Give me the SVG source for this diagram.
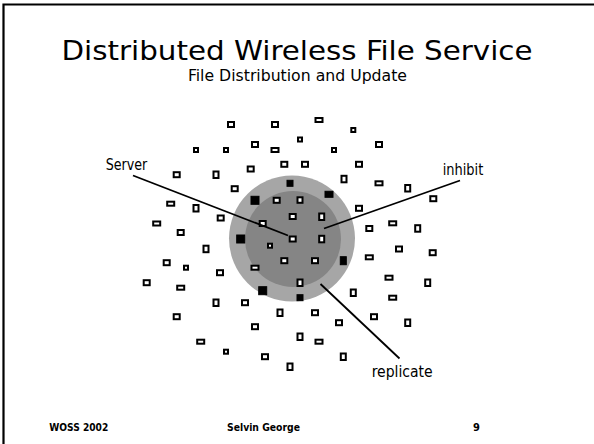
<svg xmlns="http://www.w3.org/2000/svg" width="594" height="444" viewBox="0 0 594 444">
<style>
text{font-family:"DejaVu Sans Condensed","DejaVu Sans",sans-serif;fill:#000}
.t{font-size:27px}
.st{font-size:16.5px}
.lb{font-size:15px}
.ft{font-size:11px;font-weight:bold}
.o{fill:#fff;stroke:#000;stroke-width:2}
.f{fill:#000;stroke:#000;stroke-width:1}
.c{stroke:#000;stroke-width:1.8;fill:none}
</style>
<rect width="594" height="444" fill="#fff"/>
<path d="M3.5 444V4.5H594" fill="none" stroke="#000" stroke-width="2.2"/>
<text class="t" x="297" y="59.5" text-anchor="middle" textLength="471" lengthAdjust="spacingAndGlyphs">Distributed Wireless File Service</text>
<text class="st" x="297.5" y="81" text-anchor="middle" textLength="219" lengthAdjust="spacingAndGlyphs">File Distribution and Update</text>
<g id="area">
<circle cx="292" cy="238.5" r="63" fill="#a6a6a6"/>
<circle cx="293" cy="239" r="48" fill="#858585"/>
</g>
<g id="nodes">
<rect class="o" x="228" y="122" width="6" height="5"/>
<rect class="o" x="272" y="122" width="6" height="5"/>
<rect class="o" x="298" y="137.5" width="4" height="4"/>
<rect class="o" x="194" y="148" width="4" height="4"/>
<rect class="o" x="224" y="148" width="4" height="4"/>
<rect class="o" x="252" y="142" width="6" height="5"/>
<rect class="o" x="271.5" y="148" width="7" height="4"/>
<rect class="o" x="173.7" y="172.2" width="6" height="5"/>
<rect class="o" x="213.5" y="171.5" width="5" height="6.5"/>
<rect class="o" x="247.7" y="166.5" width="6" height="5"/>
<rect class="o" x="281.3" y="161.8" width="6" height="5"/>
<rect class="o" x="231.7" y="186.2" width="6" height="5"/>
<rect class="f" x="287" y="180.3" width="6" height="6"/>
<rect class="f" x="251" y="196.3" width="8" height="8"/>
<rect class="o" x="273.7" y="197.8" width="6" height="5"/>
<rect class="o" x="297.5" y="197.3" width="5" height="5.5"/>
<rect class="o" x="167.2" y="201.7" width="7" height="4"/>
<rect class="o" x="193.5" y="205" width="5" height="6.5"/>
<rect class="o" x="289.7" y="214" width="6" height="5"/>
<rect class="o" x="217.7" y="215.5" width="6" height="5"/>
<rect class="o" x="153.2" y="221.5" width="7" height="4"/>
<rect class="o" x="177.7" y="230" width="6" height="5"/>
<rect class="o" x="259.7" y="221" width="6" height="5"/>
<rect class="o" x="315.5" y="118" width="7" height="4"/>
<rect class="o" x="351.3" y="128" width="4" height="4"/>
<rect class="o" x="332" y="148" width="4" height="4"/>
<rect class="o" x="376" y="142" width="6" height="5"/>
<rect class="o" x="302" y="161.8" width="6" height="5"/>
<rect class="o" x="356" y="161.8" width="6" height="5"/>
<rect class="o" x="341.5" y="175.8" width="5" height="6.5"/>
<rect class="f" x="325" y="191.3" width="8" height="6"/>
<rect class="o" x="375.5" y="181.3" width="7" height="4"/>
<rect class="o" x="405.2" y="185" width="5" height="6.5"/>
<rect class="o" x="430.3" y="196.2" width="6" height="5"/>
<rect class="o" x="319.2" y="213.5" width="5" height="6.5"/>
<rect class="o" x="356" y="205.8" width="6" height="5"/>
<rect class="o" x="366.3" y="226" width="6" height="5"/>
<rect class="o" x="389.2" y="221.3" width="7" height="4"/>
<rect class="o" x="415.2" y="225.2" width="5" height="6.5"/>
<rect class="f" x="236.7" y="235" width="8" height="8"/>
<rect class="o" x="289.7" y="236.5" width="6" height="5"/>
<rect class="o" x="203.5" y="245.7" width="5" height="6.5"/>
<rect class="o" x="268" y="243.7" width="4" height="4"/>
<rect class="o" x="163.7" y="260.2" width="6" height="5"/>
<rect class="o" x="184" y="265.7" width="4" height="4"/>
<rect class="o" x="217" y="270.2" width="6" height="5"/>
<rect class="o" x="251.5" y="265.7" width="7" height="4"/>
<rect class="o" x="281.3" y="258.2" width="6" height="5"/>
<rect class="o" x="143.7" y="280.2" width="6" height="5"/>
<rect class="o" x="177.2" y="285.7" width="7" height="4"/>
<rect class="f" x="258.7" y="286.7" width="8" height="8"/>
<rect class="o" x="297.5" y="279.5" width="5" height="6.5"/>
<rect class="f" x="297" y="294.7" width="6" height="6"/>
<rect class="o" x="213.5" y="299.5" width="5" height="6.5"/>
<rect class="o" x="242" y="300.2" width="6" height="5"/>
<rect class="o" x="277.5" y="309.5" width="5" height="6.5"/>
<rect class="o" x="173.7" y="314.2" width="6" height="5"/>
<rect class="o" x="252" y="324.2" width="6" height="5"/>
<rect class="o" x="297.5" y="333.5" width="5" height="6.5"/>
<rect class="o" x="197.2" y="339.7" width="7" height="4"/>
<rect class="o" x="224" y="349.7" width="4" height="4"/>
<rect class="o" x="262" y="354.2" width="6" height="5"/>
<rect class="o" x="287.5" y="363.5" width="5" height="6.5"/>
<rect class="o" x="319.2" y="235.8" width="5" height="6.5"/>
<rect class="o" x="365.8" y="255.3" width="7" height="4"/>
<rect class="o" x="396" y="246.5" width="6" height="5"/>
<rect class="o" x="429.7" y="250.2" width="6" height="5"/>
<rect class="o" x="312" y="258.2" width="6" height="5"/>
<rect class="f" x="340.3" y="256.7" width="6" height="8"/>
<rect class="o" x="385.5" y="275.7" width="7" height="4"/>
<rect class="o" x="425.2" y="279.5" width="5" height="6.5"/>
<rect class="o" x="350.8" y="289.5" width="5" height="6.5"/>
<rect class="o" x="389.2" y="295.7" width="7" height="4"/>
<rect class="o" x="312" y="310.2" width="6" height="5"/>
<rect class="o" x="336" y="320.2" width="6" height="5"/>
<rect class="o" x="371" y="314.2" width="6" height="5"/>
<rect class="o" x="405.2" y="319.5" width="5" height="6.5"/>
<rect class="o" x="315.5" y="339.7" width="7" height="4"/>
<rect class="o" x="340.8" y="353.5" width="5" height="6.5"/>
</g>
<g id="connectors">
<line class="c" x1="133" y1="175.5" x2="288" y2="235.5"/>
<line class="c" x1="324" y1="228.5" x2="460" y2="180.5"/>
<line class="c" x1="320.5" y1="284" x2="399.5" y2="358.5"/>
</g>
<g id="labels">
<text class="lb" x="105.7" y="170" textLength="41.6" lengthAdjust="spacingAndGlyphs">Server</text>
<text class="lb" x="442.7" y="175" textLength="40.6" lengthAdjust="spacingAndGlyphs">inhibit</text>
<text class="lb" x="371.7" y="376.7" textLength="61" lengthAdjust="spacingAndGlyphs">replicate</text>
</g>
<g id="footer">
<text class="ft" x="49.3" y="431" textLength="59" lengthAdjust="spacingAndGlyphs">WOSS 2002</text>
<text class="ft" x="227" y="431" textLength="73" lengthAdjust="spacingAndGlyphs">Selvin George</text>
<text class="ft" x="473" y="431">9</text>
</g>
</svg>
